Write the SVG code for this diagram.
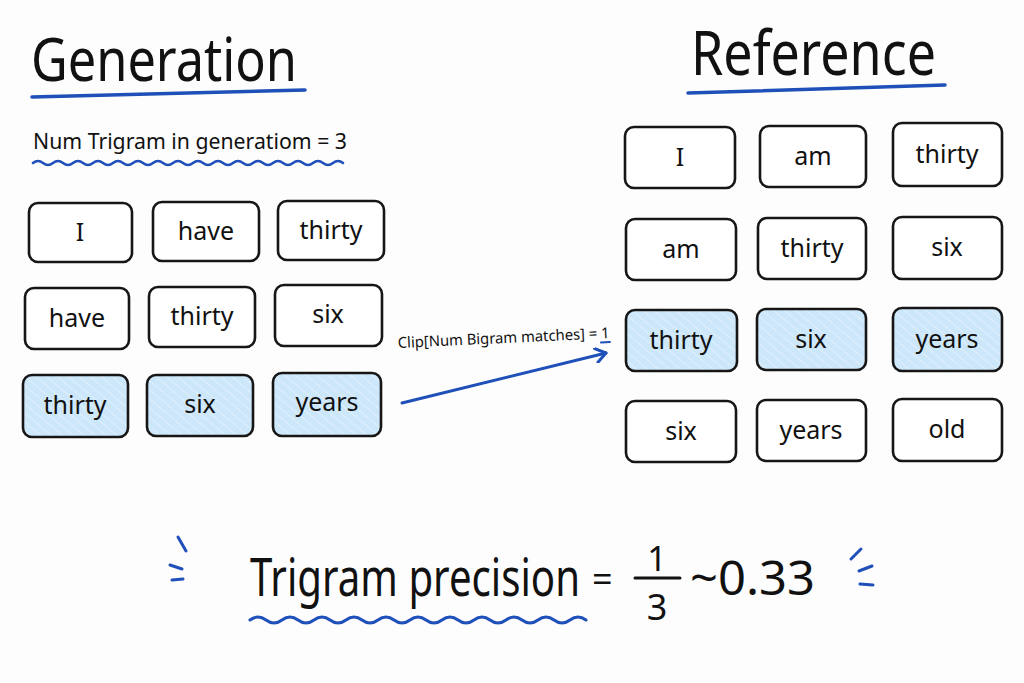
<svg xmlns="http://www.w3.org/2000/svg" width="1024" height="683" viewBox="0 0 1024 683">
<defs>
<style>
.t{font-family:"Noto Sans","Liberation Sans",sans-serif;fill:#111;}
.box{fill:#fff;stroke:#161616;stroke-width:2.6;}
.hl{fill:url(#hatch);stroke:#161616;stroke-width:2.6;}
.lbl{font-family:"Noto Sans","Liberation Sans",sans-serif;font-size:25px;fill:#111;text-anchor:middle;}
.blue{fill:none;stroke:#1f4fb8;stroke-linecap:round;stroke-linejoin:round;}
</style>
<pattern id="hatch" patternUnits="userSpaceOnUse" width="7" height="7" patternTransform="rotate(-50)">
<rect width="7" height="7" fill="#cde7fa"/>
<line x1="0" y1="0" x2="0" y2="7" stroke="#e4f2fc" stroke-width="1.5"/>
</pattern>
<marker id="arr" markerWidth="16" markerHeight="16" refX="12" refY="8" orient="auto" markerUnits="userSpaceOnUse">
<path d="M2,1 L12,8 L2,15" fill="none" stroke="#1f4fb8" stroke-width="3" stroke-linecap="round" stroke-linejoin="round"/>
</marker>
</defs>
<rect width="1024" height="683" fill="#fdfdfd"/>

<g id="title-generation">
<text class="t" transform="translate(31 81) scale(1 1.22)" x="0" y="0" font-size="50" textLength="266" lengthAdjust="spacingAndGlyphs">Generation</text>
<path class="blue" d="M32,97 Q170,94 305,90" stroke-width="3.5"/>
</g>
<g id="title-reference">
<text class="t" transform="translate(691 75) scale(1 1.18)" x="0" y="0" font-size="52" textLength="245" lengthAdjust="spacingAndGlyphs">Reference</text>
<path class="blue" d="M688,93 Q815,89 945,85" stroke-width="3.5"/>
</g>

<g id="num-trigram">
<text class="t" x="33" y="149" font-size="22" textLength="314" lengthAdjust="spacingAndGlyphs">Num Trigram in generatiom = 3</text>
<path class="blue" stroke-width="2.5" d="M33,163 q5,-4 10,0 t10,0 t10,0 t10,0 t10,0 t10,0 t10,0 t10,0 t10,0 t10,0 t10,0 t10,0 t10,0 t10,0 t10,0 t10,0 t10,0 t10,0 t10,0 t10,0 t10,0 t10,0 t10,0 t10,0 t10,0 t10,0 t10,0 t10,0 t10,0 t10,0 t10,0"/>
</g>

<!-- Generation grid -->
<g id="g-r1c1"><rect class="box" x="29" y="203" width="103" height="59" rx="9"/><text class="lbl" x="80" y="241">I</text></g>
<g id="g-r1c2"><rect class="box" x="153" y="202" width="106" height="59" rx="9"/><text class="lbl" x="206" y="240">have</text></g>
<g id="g-r1c3"><rect class="box" x="278" y="201" width="106" height="59" rx="9"/><text class="lbl" x="331" y="239">thirty</text></g>
<g id="g-r2c1"><rect class="box" x="25" y="288" width="104" height="61" rx="9"/><text class="lbl" x="77" y="327">have</text></g>
<g id="g-r2c2"><rect class="box" x="149" y="287" width="106" height="60" rx="9"/><text class="lbl" x="202" y="325">thirty</text></g>
<g id="g-r2c3"><rect class="box" x="275" y="285" width="107" height="61" rx="9"/><text class="lbl" x="328" y="323">six</text></g>
<g id="g-r3c1"><rect class="hl" x="23" y="375" width="105" height="62" rx="9"/><text class="lbl" x="75" y="414">thirty</text></g>
<g id="g-r3c2"><rect class="hl" x="147" y="375" width="106" height="61" rx="9"/><text class="lbl" x="200" y="413">six</text></g>
<g id="g-r3c3"><rect class="hl" x="273" y="373" width="108" height="63" rx="9"/><text class="lbl" x="327" y="411">years</text></g>

<!-- Reference grid -->
<g id="r-r1c1"><rect class="box" x="625" y="127" width="110" height="61" rx="9"/><text class="lbl" x="680" y="166">I</text></g>
<g id="r-r1c2"><rect class="box" x="760" y="126" width="106" height="61" rx="9"/><text class="lbl" x="813" y="165">am</text></g>
<g id="r-r1c3"><rect class="box" x="893" y="123" width="109" height="63" rx="9"/><text class="lbl" x="947" y="163">thirty</text></g>
<g id="r-r2c1"><rect class="box" x="626" y="219" width="110" height="61" rx="9"/><text class="lbl" x="681" y="258">am</text></g>
<g id="r-r2c2"><rect class="box" x="758" y="218" width="108" height="61" rx="9"/><text class="lbl" x="812" y="257">thirty</text></g>
<g id="r-r2c3"><rect class="box" x="893" y="217" width="109" height="62" rx="9"/><text class="lbl" x="947" y="256">six</text></g>
<g id="r-r3c1"><rect class="hl" x="626" y="310" width="111" height="61" rx="9"/><text class="lbl" x="681" y="349">thirty</text></g>
<g id="r-r3c2"><rect class="hl" x="757" y="309" width="109" height="61" rx="9"/><text class="lbl" x="811" y="348">six</text></g>
<g id="r-r3c3"><rect class="hl" x="893" y="308" width="109" height="63" rx="9"/><text class="lbl" x="947" y="348">years</text></g>
<g id="r-r4c1"><rect class="box" x="626" y="401" width="110" height="61" rx="9"/><text class="lbl" x="681" y="440">six</text></g>
<g id="r-r4c2"><rect class="box" x="757" y="400" width="109" height="61" rx="9"/><text class="lbl" x="811" y="439">years</text></g>
<g id="r-r4c3"><rect class="box" x="893" y="399" width="109" height="62" rx="9"/><text class="lbl" x="947" y="438">old</text></g>

<g id="connectors">
<path class="blue" d="M402,403 L606,353" stroke-width="3" marker-end="url(#arr)"/>
<g transform="rotate(-2.7 398 348)">
<text class="t" x="398" y="348" font-size="15" textLength="212" lengthAdjust="spacingAndGlyphs">Clip[Num Bigram matches] = 1</text>
<path class="blue" d="M601,352 L610,352" stroke-width="2"/>
</g>
</g>

<g id="formula">
<text class="t" transform="translate(250 596) scale(1 1.32)" x="0" y="0" font-size="40" textLength="330" lengthAdjust="spacingAndGlyphs">Trigram precision</text>
<text class="t" x="592" y="592" font-size="36">=</text>
<text class="t" x="657" y="571" font-size="34" text-anchor="middle">1</text>
<line x1="635" y1="578" x2="680" y2="578" stroke="#111" stroke-width="3" stroke-linecap="round"/>
<text class="t" x="657" y="620" font-size="36" text-anchor="middle">3</text>
<text class="t" x="690" y="595" font-size="47" textLength="125" lengthAdjust="spacingAndGlyphs">~0.33</text>
<path class="blue" stroke-width="3" d="M250,620 q8,-6 16,0 t16,0 t16,0 t16,0 t16,0 t16,0 t16,0 t16,0 t16,0 t16,0 t16,0 t16,0 t16,0 t16,0 t16,0 t16,0 t16,0 t16,0 t16,0 t16,0 t16,0"/>
<path class="blue" stroke-width="3" d="M178,537 L186,551 M170,565 L182,569 M172,580 L183,579"/>
<path class="blue" stroke-width="3" d="M851,559 L861,549 M859,571 L872,566 M860,584 L873,585"/>
</g>
</svg>
